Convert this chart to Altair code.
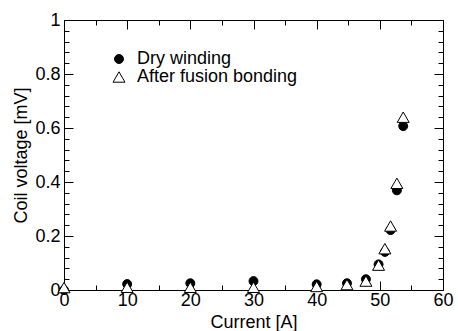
import altair as alt
import pandas as pd

# Data
current = [0, 10, 20, 30, 40, 44.8, 47.8, 49.8, 50.8, 51.7, 52.7, 53.7]
dry_winding = [0.0, 0.022, 0.025, 0.033, 0.021, 0.025, 0.040, 0.095, 0.141, 0.222, 0.369, 0.607]
after_fusion = [0.009, 0.010, 0.010, 0.010, 0.013, 0.020, 0.033, 0.092, 0.153, 0.237, 0.395, 0.640]

series_names = ["Dry winding", "After fusion bonding"]
x_major = [0, 10, 20, 30, 40, 50, 60]
x_minor = [5, 15, 25, 35, 45, 55]
y_major = [0, 0.2, 0.4, 0.6, 0.8, 1.0]
y_minor = [0.04, 0.08, 0.12, 0.16, 0.24, 0.28, 0.32, 0.36, 0.44, 0.48, 0.52, 0.56,
           0.64, 0.68, 0.72, 0.76, 0.84, 0.88, 0.92, 0.96]

rows = []
for c, v in zip(current, dry_winding):
    rows.append({"current": c, "voltage": v, "series": series_names[0]})
for c, v in zip(current, after_fusion):
    rows.append({"current": c, "voltage": v, "series": series_names[1]})
df = pd.DataFrame(rows)

FONT = "Liberation Sans"
FS = 18
MAJ = 9
MIN = 5

xs = alt.Scale(domain=[0, 60], nice=False, zero=False)
ys = alt.Scale(domain=[0, 1], nice=False, zero=False)


def ax(orient, values, size, labels=False, title="", pad=0, fmt="d"):
    kw = dict(orient=orient, values=values, tickSize={"expr": str(-size)}, labels=labels,
              domain=False, grid=False, tickColor="black", tickWidth=1, title=title)
    if labels:
        kw.update(labelFont=FONT, labelFontSize=FS, labelColor="black", labelPadding=pad,
                  labelFlush=False, labelOverlap=False, titleFont=FONT, titleFontSize=FS,
                  titleFontWeight="normal", titleColor="black", format=fmt)
    return alt.Axis(**kw)


leg = alt.Legend(orient="none", legendX=46, legendY=30, title=None,
                 labelFont=FONT, labelFontSize=FS, labelColor="black", labelLimit=400,
                 symbolStrokeWidth=1, rowPadding=0, labelOffset=9, padding=0)

main = alt.Chart(df).mark_point(filled=False, strokeWidth=1, opacity=1).encode(
    x=alt.X("current:Q", scale=xs,
            axis=ax("bottom", x_major, MAJ, labels=True, title="Current [A]", pad=MAJ + 1, fmt="d")),
    y=alt.Y("voltage:Q", scale=ys,
            axis=ax("left", y_major, MAJ, labels=True, title="Coil voltage [mV]", pad=MAJ + 4, fmt="~r")),
    shape=alt.Shape("series:N", scale=alt.Scale(domain=series_names, range=["circle", "triangle-up"]),
                    legend=leg),
    fill=alt.Fill("series:N", scale=alt.Scale(domain=series_names, range=["black", "white"]), legend=leg),
    stroke=alt.Stroke("series:N", scale=alt.Scale(domain=series_names, range=["black", "black"]), legend=leg),
    size=alt.Size("series:N", scale=alt.Scale(domain=series_names, range=[80, 144]), legend=leg),
)

base = alt.Chart(df).mark_point(opacity=0).encode(
    x=alt.X("current:Q", scale=xs),
    y=alt.Y("voltage:Q", scale=ys),
)

minor_bl = base.encode(
    x=alt.X("current:Q", scale=xs, axis=ax("bottom", x_minor, MIN)),
    y=alt.Y("voltage:Q", scale=ys, axis=ax("left", y_minor, MIN)),
)
major_tr = base.encode(
    x=alt.X("current:Q", scale=xs, axis=ax("top", x_major, MAJ)),
    y=alt.Y("voltage:Q", scale=ys, axis=ax("right", y_major, MAJ)),
)
minor_tr = base.encode(
    x=alt.X("current:Q", scale=xs, axis=ax("top", x_minor, MIN)),
    y=alt.Y("voltage:Q", scale=ys, axis=ax("right", y_minor, MIN)),
)

chart = alt.layer(minor_bl, major_tr, minor_tr, main).resolve_axis(
    x="independent", y="independent"
).properties(
    width=379, height=270,
    autosize=alt.AutoSizeParams(type="none"),
    padding={"left": 64, "top": 20, "right": 15, "bottom": 41},
    background="white",
).configure_view(stroke="black", strokeWidth=1)

chart.save("out.html", embed_options={"renderer": "svg", "actions": False})
